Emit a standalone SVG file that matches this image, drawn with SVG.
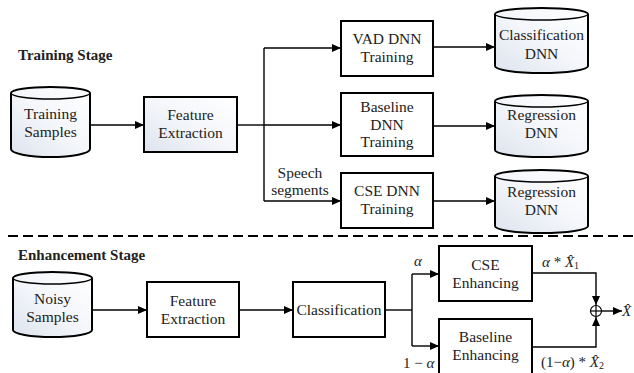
<svg xmlns="http://www.w3.org/2000/svg" width="634" height="373" viewBox="0 0 634 373">
  <defs>
    <linearGradient id="soft" x1="1" y1="0" x2="0" y2="1">
      <stop offset="0" stop-color="#ffffff"/>
      <stop offset="0.5" stop-color="#f4f6fa"/>
      <stop offset="1" stop-color="#dde4ee"/>
    </linearGradient>
    <marker id="arrow" markerUnits="userSpaceOnUse" markerWidth="10" markerHeight="9" refX="9" refY="4" orient="auto">
      <path d="M0,0 L9,4 L0,8 z" fill="#000"/>
    </marker>
  </defs>
  <style>
    .box { fill: #fff; stroke: #000; stroke-width: 2; }
    .grad { fill: url(#soft); stroke: #000; stroke-width: 2; }
    text { font-family: "Liberation Serif", Tinos, "Times New Roman", Times, "Nimbus Roman", "Nimbus Roman No9 L", FreeSerif, "Noto Serif", "DejaVu Serif", serif; }
    .lbl { font-size: 15.5px; fill: #222; text-anchor: middle; }
    .head { font-size: 15px; font-weight: bold; fill: #222; }
    .math { font-size: 15px; fill: #222; }
    .it { font-style: italic; }
    .wire { fill: none; stroke: #000; stroke-width: 1.4; }
    .arr { fill: none; stroke: #000; stroke-width: 1.4; marker-end: url(#arrow); }
  </style>

  <rect width="634" height="373" fill="#fff"/>

  <!-- stage headings and divider -->
  <text class="head" x="18" y="60">Training Stage</text>
  <text class="head" x="18" y="260">Enhancement Stage</text>
  <line x1="8" y1="236" x2="634" y2="236" stroke="#000" stroke-width="2" stroke-dasharray="10 5"/>

  <!-- training stage -->
  <g id="training-samples">
    <path class="grad" d="M11,93 A39.5,6 0 0 1 90,93 L90,149 A39.5,8 0 0 1 11,149 Z"/>
    <path class="wire" d="M11,93 A39.5,6 0 0 0 90,93" stroke-width="2"/>
    <text class="lbl" x="50.5" y="119">Training</text>
    <text class="lbl" x="50.5" y="137">Samples</text>
  </g>
  <g id="feature-extraction-train">
    <rect class="grad" x="144" y="97" width="93" height="55"/>
    <text class="lbl" x="190.5" y="120">Feature</text>
    <text class="lbl" x="190.5" y="138">Extraction</text>
  </g>
  <g id="vad-training">
    <rect class="box" x="341" y="21" width="92" height="55"/>
    <text class="lbl" x="387" y="44">VAD DNN</text>
    <text class="lbl" x="387" y="62">Training</text>
  </g>
  <g id="baseline-training">
    <rect class="box" x="341" y="93" width="92" height="63"/>
    <text class="lbl" x="387" y="112">Baseline</text>
    <text class="lbl" x="387" y="130">DNN</text>
    <text class="lbl" x="387" y="147">Training</text>
  </g>
  <g id="cse-training">
    <rect class="box" x="341" y="173" width="92" height="55"/>
    <text class="lbl" x="387" y="196">CSE DNN</text>
    <text class="lbl" x="387" y="214">Training</text>
  </g>
  <g id="classification-dnn">
    <path class="grad" d="M495,14 A46.5,6 0 0 1 588,14 L588,66 A46.5,7 0 0 1 495,66 Z"/>
    <path class="wire" d="M495,14 A46.5,6 0 0 0 588,14" stroke-width="2"/>
    <text class="lbl" x="541.5" y="40">Classification</text>
    <text class="lbl" x="541.5" y="59">DNN</text>
  </g>
  <g id="regression-dnn-baseline">
    <path class="grad" d="M495,101 A46.5,6 0 0 1 588,101 L588,150 A46.5,7 0 0 1 495,150 Z"/>
    <path class="wire" d="M495,101 A46.5,6 0 0 0 588,101" stroke-width="2"/>
    <text class="lbl" x="541.5" y="120">Regression</text>
    <text class="lbl" x="541.5" y="138">DNN</text>
  </g>
  <g id="regression-dnn-cse">
    <path class="grad" d="M495,176 A46.5,6 0 0 1 588,176 L588,226 A46.5,7 0 0 1 495,226 Z"/>
    <path class="wire" d="M495,176 A46.5,6 0 0 0 588,176" stroke-width="2"/>
    <text class="lbl" x="541.5" y="197">Regression</text>
    <text class="lbl" x="541.5" y="215">DNN</text>
  </g>

  <!-- enhancement stage -->
  <g id="noisy-samples">
    <path class="grad" d="M13,278 A39.5,6 0 0 1 92,278 L92,330 A39.5,7 0 0 1 13,330 Z"/>
    <path class="wire" d="M13,278 A39.5,6 0 0 0 92,278" stroke-width="2"/>
    <text class="lbl" x="52.5" y="304">Noisy</text>
    <text class="lbl" x="52.5" y="322">Samples</text>
  </g>
  <g id="feature-extraction-enh">
    <rect class="box" x="147" y="282" width="92" height="55"/>
    <text class="lbl" x="193" y="306">Feature</text>
    <text class="lbl" x="193" y="324">Extraction</text>
  </g>
  <g id="classification">
    <rect class="box" x="293" y="282" width="92" height="55"/>
    <text class="lbl" x="339" y="315">Classification</text>
  </g>
  <g id="cse-enhancing">
    <rect class="box" x="439" y="246" width="93" height="55"/>
    <text class="lbl" x="485.5" y="270">CSE</text>
    <text class="lbl" x="485.5" y="288">Enhancing</text>
  </g>
  <g id="baseline-enhancing">
    <rect class="box" x="439" y="319" width="93" height="60"/>
    <text class="lbl" x="485.5" y="342">Baseline</text>
    <text class="lbl" x="485.5" y="360">Enhancing</text>
  </g>
  <g id="sum">
    <circle cx="596" cy="311" r="5.5" fill="#fff" stroke="#000" stroke-width="1.2"/>
    <line x1="590.5" y1="311" x2="601.5" y2="311" stroke="#000" stroke-width="1.2"/>
    <line x1="596" y1="305.5" x2="596" y2="316.5" stroke="#000" stroke-width="1.2"/>
  </g>

  <!-- connectors -->
  <g id="connectors">
    <line class="arr" x1="90" y1="125" x2="144" y2="125"/>
    <line class="wire" x1="237" y1="125" x2="264" y2="125" stroke-width="2.2"/>
    <line class="wire" x1="264" y1="48" x2="264" y2="201"/>
    <line class="arr" x1="264" y1="48" x2="341" y2="48"/>
    <line class="arr" x1="264" y1="125" x2="341" y2="125"/>
    <line class="arr" x1="264" y1="201" x2="341" y2="201"/>
    <line class="arr" x1="433" y1="47" x2="495" y2="47"/>
    <line class="arr" x1="433" y1="126" x2="495" y2="126"/>
    <line class="arr" x1="433" y1="201" x2="495" y2="201"/>

    <line class="arr" x1="92" y1="310" x2="147" y2="310"/>
    <line class="arr" x1="239" y1="310" x2="293" y2="310"/>
    <line class="wire" x1="385" y1="310" x2="412" y2="310"/>
    <line class="wire" x1="412" y1="274" x2="412" y2="346"/>
    <line class="arr" x1="412" y1="274" x2="439" y2="274"/>
    <line class="arr" x1="412" y1="346" x2="439" y2="346"/>
    <path class="arr" d="M532,273 L596,273 L596,305"/>
    <path class="arr" d="M532,347 L596,347 L596,317"/>
    <line class="arr" x1="601.5" y1="311" x2="622" y2="311"/>
  </g>

  <!-- labels -->
  <text class="lbl" x="300" y="178">Speech</text>
  <text class="lbl" x="300" y="195">segments</text>
  <text class="math it" x="414" y="266">α</text>
  <text class="math" x="403" y="368">1 − <tspan class="it">α</tspan></text>
  <text class="math" x="542" y="267"><tspan class="it">α</tspan> * <tspan class="it">X̂</tspan><tspan font-size="10" dy="2">1</tspan></text>
  <text class="math" x="541" y="367">(1−<tspan class="it">α</tspan>) * <tspan class="it">X̂</tspan><tspan font-size="10" dy="2">2</tspan></text>
  <text class="math it" x="622" y="316">X̂</text>
</svg>
